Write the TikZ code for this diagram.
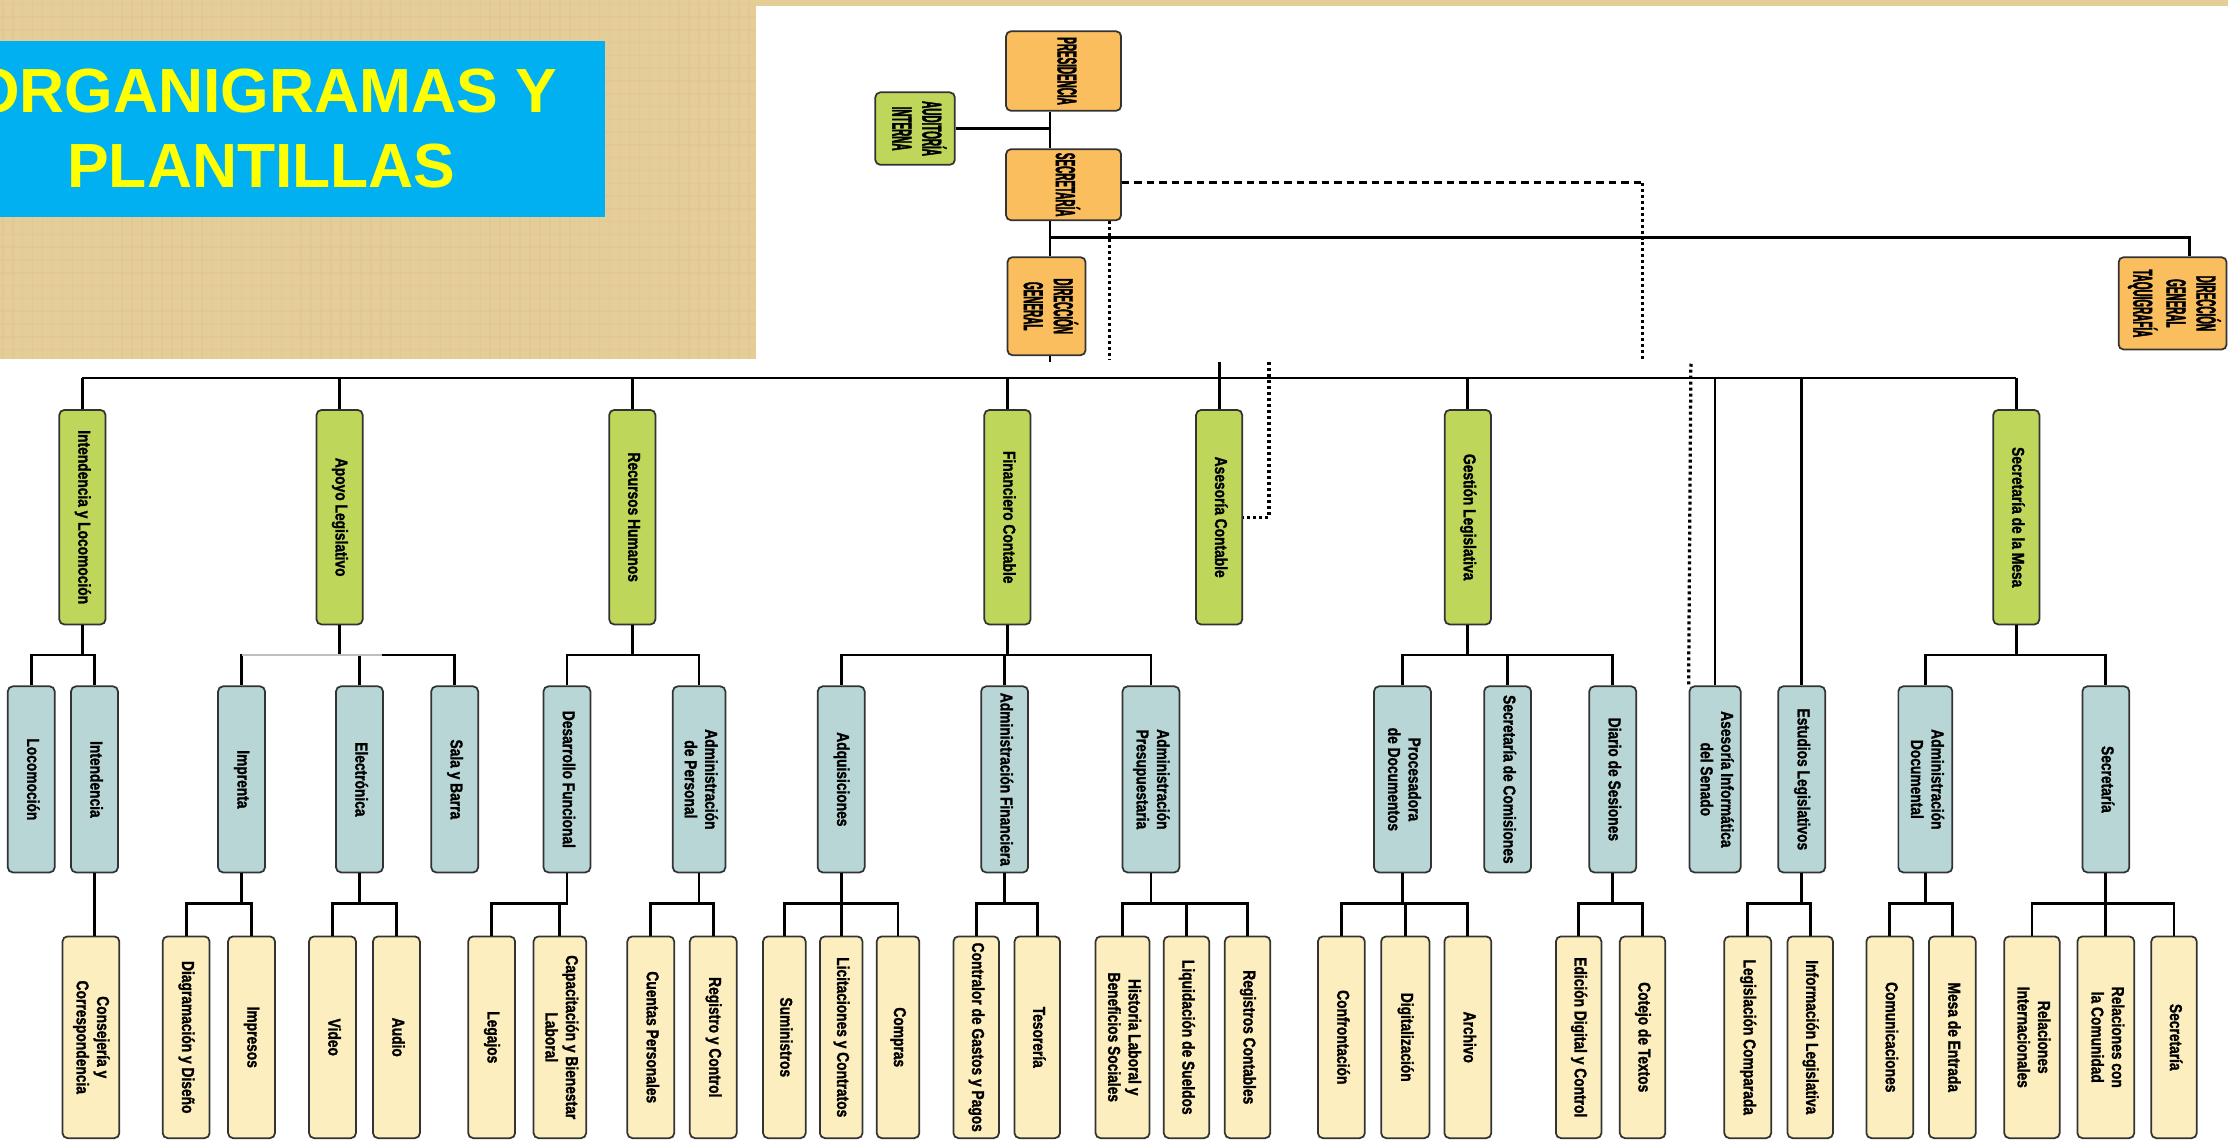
\documentclass[tikz,border=0pt]{standalone}
\usepackage{graphicx}
\usepackage{fontspec}
\setmainfont{Liberation Sans}
\newfontfamily\narrowsf[FakeStretch=0.8, BoldFeatures={FakeBold=1.5}]{Liberation Sans}
\newfontfamily\tightsf[FakeStretch=0.36, BoldFeatures={FakeBold=1.5}]{Liberation Sans}
\usetikzlibrary{calc}
\definecolor{headorange}{RGB}{250,190,95}
\definecolor{areagreen}{RGB}{190,214,90}
\definecolor{unitblue}{RGB}{184,214,214}
\definecolor{taskyellow}{RGB}{252,238,190}
\definecolor{titlecyan}{RGB}{0,176,240}
\definecolor{titleyellow}{RGB}{255,255,0}
\definecolor{paper}{RGB}{229,205,152}
\newcommand{\vtext}[1]{\rotatebox{-90}{\begin{tabular}{@{}c@{}}#1\end{tabular}}}

\begin{document}
\begin{tikzpicture}[x=0.02cm, y=-0.02cm,
    box/.style = {draw=black!80, line width=0.7pt, rounded corners=2pt,
                inner sep=0pt, align=center},
    head/.style = {box, fill=headorange,
                font=\tightsf\bfseries\fontsize{11}{12}\selectfont},
    area/.style = {box, fill=areagreen, minimum width=0.65cm, minimum height=3.02cm,
                font=\narrowsf\bfseries\fontsize{6.9}{8.2}\selectfont},
    unit/.style = {box, fill=unitblue, minimum width=#1, minimum height=2.62cm,
                font=\narrowsf\bfseries\fontsize{6.9}{8.2}\selectfont},
    task/.style = {box, fill=taskyellow, minimum width=#1, minimum height=2.84cm,
                font=\narrowsf\bfseries\fontsize{6.9}{8.2}\selectfont},
    link/.style = {line width=1.1pt},
    dashline/.style = {line width=1.1pt, dash pattern=on 3pt off 2pt},
    dotline/.style = {line width=1.3pt, dash pattern=on 1.2pt off 1.2pt},
    grain/.style = {line width=0.6pt, brown!60, opacity=0.18},
    headline/.style = {text=titleyellow, inner sep=0pt,
                font=\bfseries\fontsize{25}{30}\selectfont}
                    ]
    \useasboundingbox (0,0) rectangle (1568,803);
    \fill[white] (0,0) rectangle (1568,803);
    % papyrus background and title
    \fill[paper] (0,0) rectangle (532,253);
    \fill[paper] (0,0) rectangle (1568,4);
    \foreach \x in {2,9,...,530}
        \draw[grain] (\x,0) -- (\x,253);
    \foreach \y in {3,12,...,251}
        \draw[grain] (0,\y) -- (532,\y);
    \fill[titlecyan] (0,29) rectangle (426,152.5);
    \node[headline, anchor=base] (tt1) at (186,79) {ORGANIGRAMAS Y};
    \node[headline, anchor=base] (tt2) at (184,132) {PLANTILLAS};
    % top of the chart
    \node[head, minimum width=1.62cm, minimum height=1.12cm] (pres) at (748.5,50) {\vtext{PRESIDENCIA}};
    \node[head, minimum width=1.62cm, minimum height=1.0cm] (secre) at (748.5,130) {\vtext{SECRETARÍA}};
    \node[head, fill=areagreen, minimum width=1.12cm, minimum height=1.02cm] (audit) at (644,90.5) {\vtext{AUDITORÍA\\INTERNA}};
    \node[head, minimum width=1.1cm, minimum height=1.38cm] (dirg) at (736.5,215.5) {\vtext{DIRECCIÓN\\GENERAL}};
    \node[head, minimum width=1.52cm, minimum height=1.3cm] (dgtq) at (1529,213.5) {\vtext{DIRECCIÓN\\GENERAL\\TAQUIGRAFÍA}};
    % areas
    \foreach \n/\x/\t in {iyl/58/Intendencia y Locomoción, apl/239/Apoyo Legislativo,
            rrhh/445/Recursos Humanos, fico/709/Financiero Contable, asco/858/Asesoría Contable,
            gele/1033/Gestión Legislativa, sdlm/1419/Secretaría de la Mesa}
        \node[area] (\n) at (\x,364) {\vtext{\t}};
    % units
    \foreach \n/\x/\w/\t in {loco/22/33/Locomoción, inte/66.5/33/Intendencia, impr/170/33/Imprenta,
            elec/253/33/Electrónica, saba/320/33/Sala y Barra, defu/399/33/Desarrollo Funcional,
            adpe/492/37/Administración\\de Personal, adqu/592/33/Adquisiciones,
            adfi/707/33/Administración Financiera, adpr/810/40/Administración\\Presupuestaria,
            prdo/987/40/Procesadora\\de Documentos, seco/1061/33/Secretaría de Comisiones,
            dise/1135/33/Diario de Sesiones, aise/1207/36/Asesoría Informática\\del Senado,
            esle/1268/33/Estudios Legislativos, addo/1355/38/Administración\\Documental,
            sria/1482/33/Secretaría}
        \node[unit={\w*0.02cm}] (\n) at (\x,548.5) {\vtext{\t}};
    % tasks
    \foreach \n/\x/\w/\t in {cyco/64/40/Consejería y\\Correspondencia, dydi/131/33/Diagramación y Diseño,
            impe/177/33/Impresos, vide/234/33/Video, audi/279/33/Audio, lega/346/33/Legajos,
            cabl/394/37/Capacitación y Bienestar\\Laboral, cupe/458/33/Cuentas Personales,
            regc/502/33/Registro y Control, sumi/552/30/Suministros, lico/592/30/Licitaciones y Contratos,
            comp/632/30/Compras, cogp/687/32/Contralor de Gastos y Pagos, teso/730/32/Tesorería,
            hlbs/790/38/Historia Laboral y\\Beneficios Sociales, lisu/835/32/Liquidación de Sueldos,
            reca/878/32/Registros Contables, conf/944/33/Confrontación, digi/989/34/Digitalización,
            arch/1033/33/Archivo, edco/1111/32/Edición Digital y Control, cote/1156/32/Cotejo de Textos,
            leco/1230/33/Legislación Comparada, inle/1274/32/Información Legislativa,
            comu/1330/33/Comunicaciones, meen/1374/33/Mesa de Entrada,
            rein/1430/39/Relaciones\\Internacionales, rcom/1482/40/Relaciones con\\la Comunidad,
            sriy/1530/32/Secretaría}
        \node[task={\w*0.02cm}] (\n) at (\x,730) {\vtext{\t}};
    % connectors at the top
    \coordinate (sp) at (739,0);
    \coordinate (bus) at (0,266);
    \coordinate (sub1) at (0,461);
    \coordinate (sub2) at (0,636);
    \draw[link] (pres.south -| sp) -- (secre.north -| sp);
    \draw[link] (audit.east) -- (audit.east -| sp);
    \draw[link] (secre.south -| sp) -- (dirg.north -| sp);
    \draw[link] (sp |- 0,167) -| (dgtq.north -| 1541,0);
    \draw[link] (dirg.south -| sp) -- (sp |- 0,255);
    \draw[dashline] (secre.east |- 0,128.5) -- (1156,128.5);
    \draw[dotline] (1156,128.5) -- (1156,253);
    \draw[dotline] (secre.south -| 781,0) -- (781,253);
    \draw[dotline] (893,255) |- (asco.east);
    \draw[dotline] (1190,256) -- (aise.north west);
    % main bus
    \draw[link] (iyl.north |- bus) -- (sdlm.north |- bus);
    \draw[link] (asco.north) -- (asco.north |- 0,255);
    \foreach \c in {iyl,apl,rrhh,fico,gele,sdlm,aise,esle}
        \draw[link] (\c.north) -- (\c.north |- bus);
    % areas to units
    \foreach \p/\c in {iyl/loco, iyl/inte, apl/impr, apl/elec, apl/saba, rrhh/defu, rrhh/adpe,
            fico/adqu, fico/adfi, fico/adpr, gele/prdo, gele/seco, gele/dise, sdlm/addo, sdlm/sria}
        \draw[link] (\p.south) -- (\p.south |- sub1) -| (\c.north);
    \draw[link, black!25] (impr.north |- sub1) -- (269,461);
    % units to tasks
    \draw[link] (inte.south) -- (inte.south |- cyco.north);
    \foreach \p/\c in {impr/dydi, impr/impe, elec/vide, elec/audi, defu/lega, defu/cabl,
            adpe/cupe, adpe/regc, adqu/sumi, adqu/lico, adqu/comp, adfi/cogp, adfi/teso,
            adpr/hlbs, adpr/lisu, adpr/reca, prdo/conf, prdo/digi, prdo/arch, dise/edco, dise/cote,
            esle/leco, esle/inle, addo/comu, addo/meen, sria/rein, sria/rcom, sria/sriy}
        \draw[link] (\p.south) -- (\p.south |- sub2) -| (\c.north);
\end{tikzpicture}
\end{document}
